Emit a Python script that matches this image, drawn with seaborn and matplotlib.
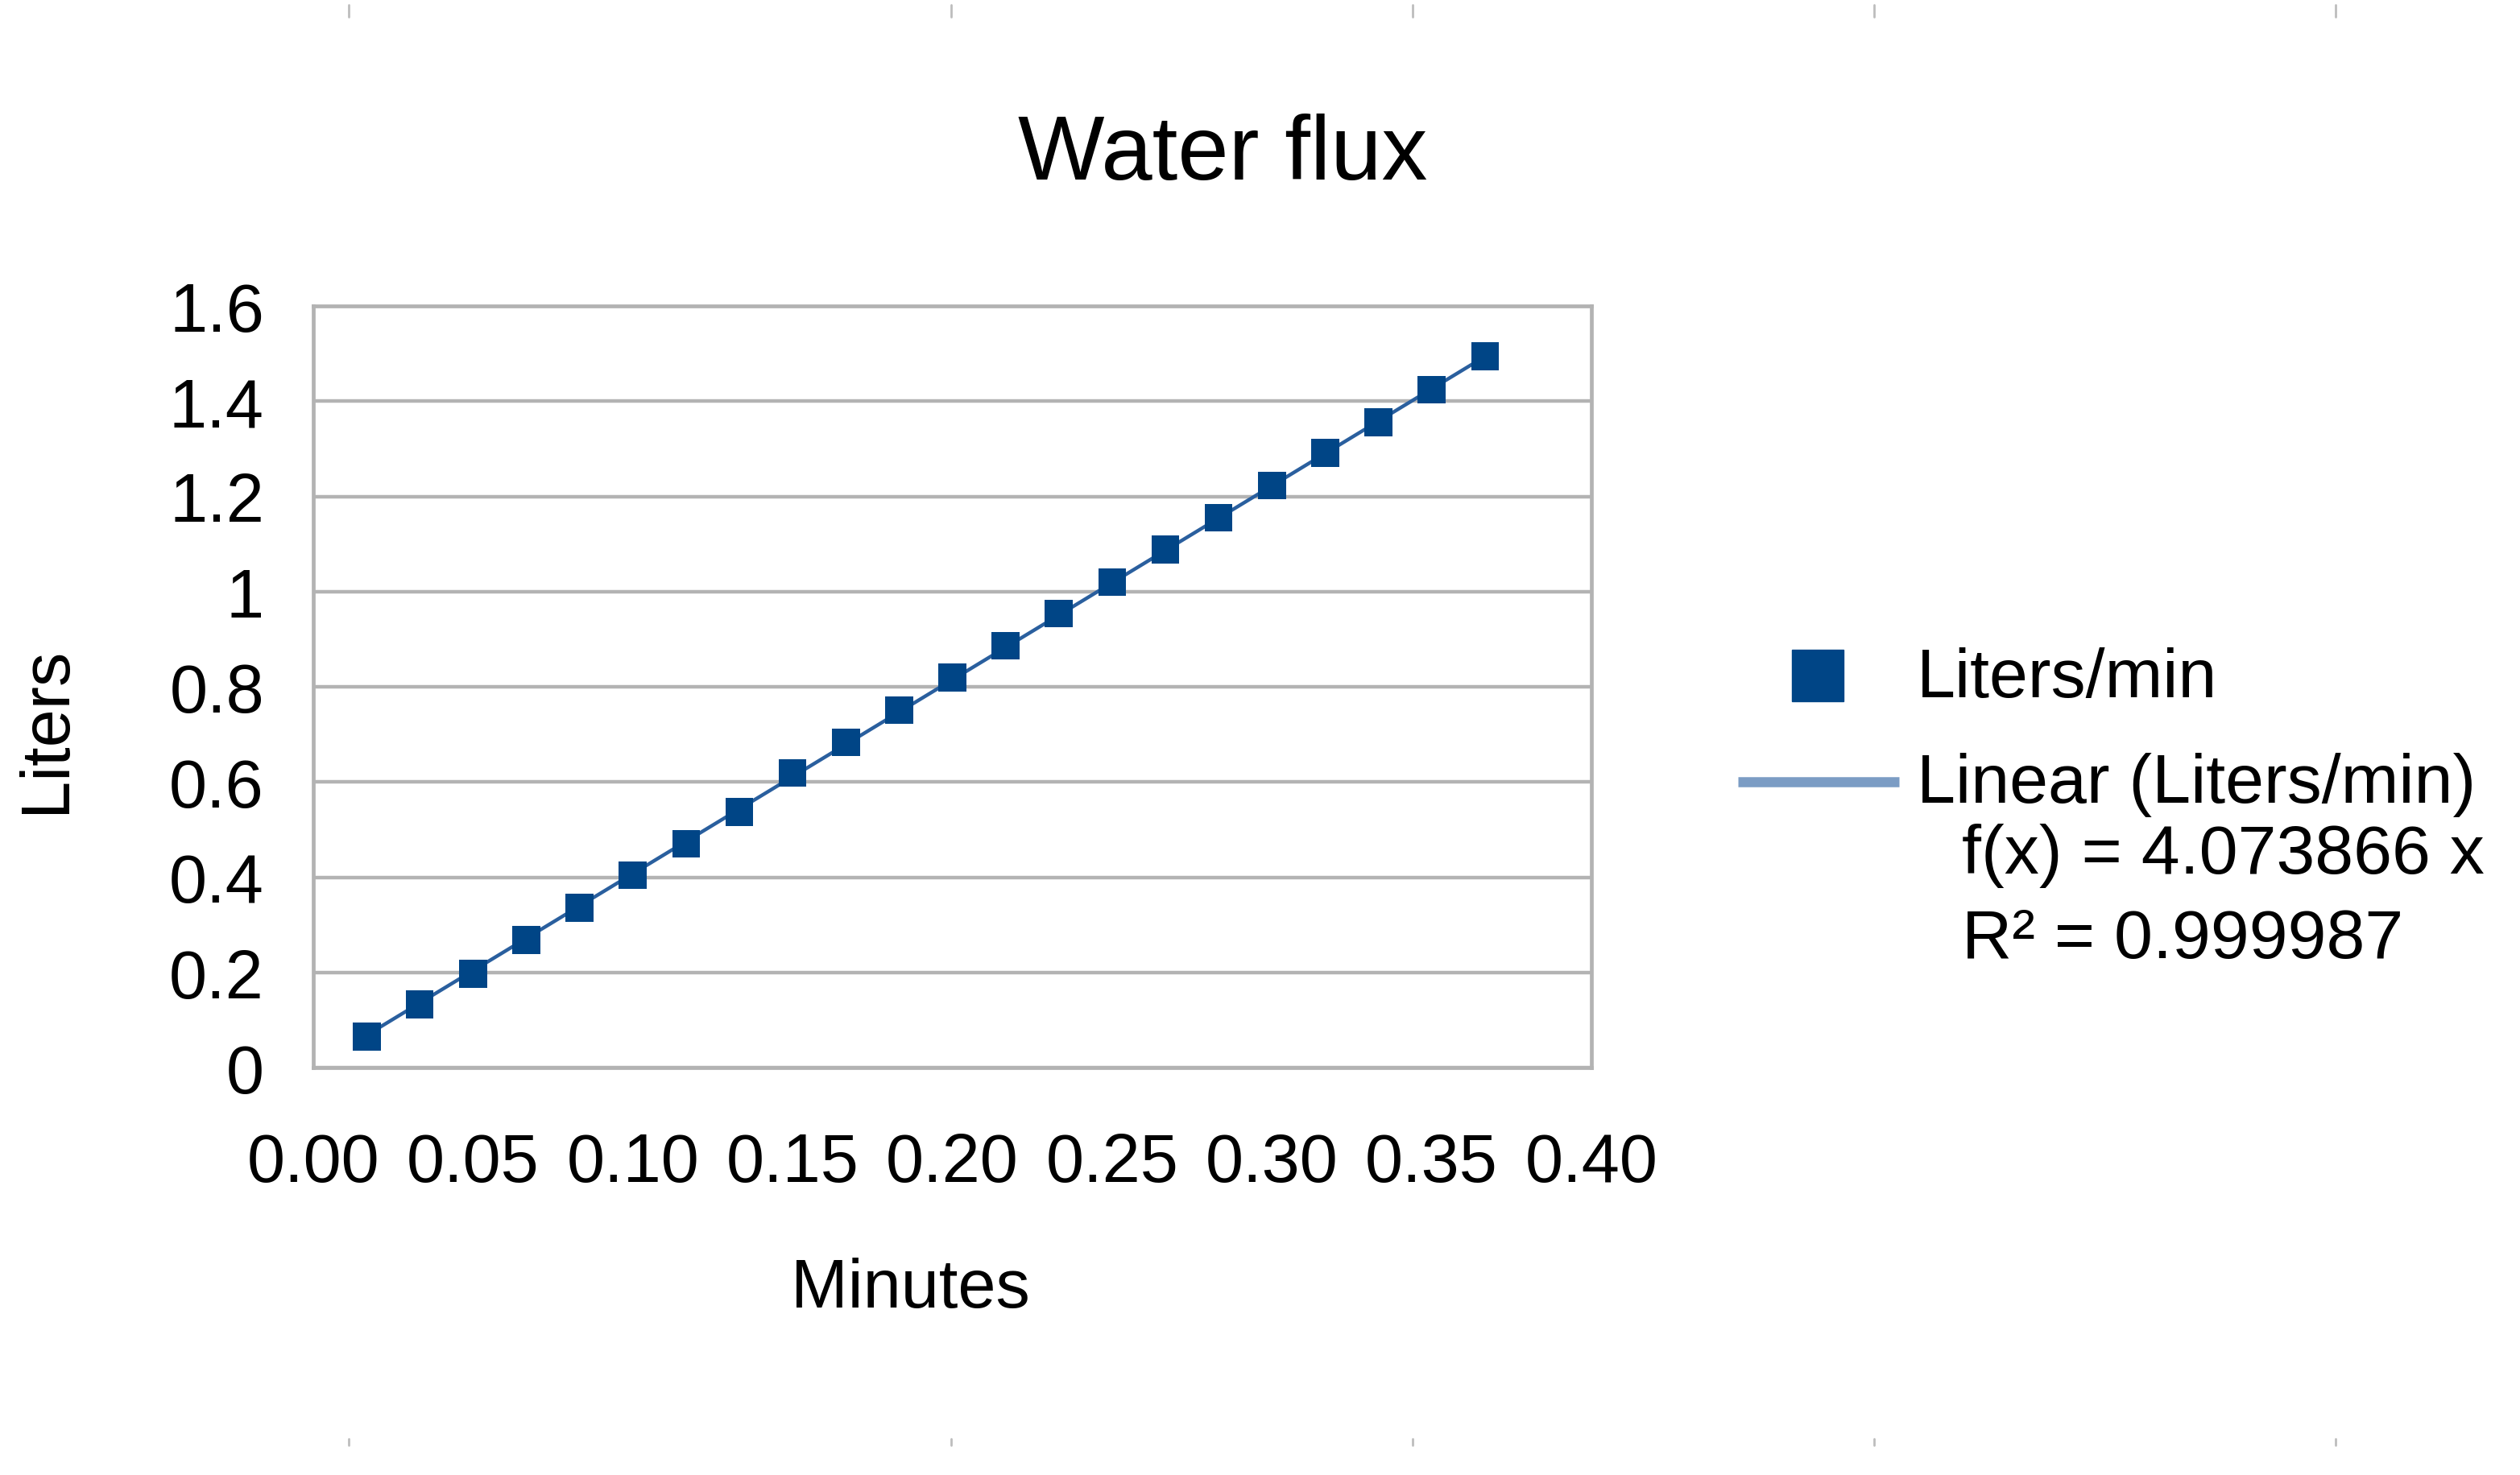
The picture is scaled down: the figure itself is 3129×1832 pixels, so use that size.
import matplotlib
matplotlib.use("Agg")
import matplotlib.pyplot as plt
from matplotlib.lines import Line2D
import seaborn as sns
import pandas as pd
import numpy as np

# ---------------- data ----------------
minutes = [0.0167, 0.0333, 0.0500, 0.0667, 0.0833, 0.1000, 0.1167, 0.1333,
           0.1500, 0.1667, 0.1833, 0.2000, 0.2167, 0.2333, 0.2500, 0.2667,
           0.2833, 0.3000, 0.3167, 0.3333, 0.3500, 0.3667]
liters = [0.065, 0.133, 0.197, 0.268, 0.336, 0.404, 0.470, 0.537,
          0.619, 0.683, 0.751, 0.819, 0.886, 0.954, 1.020, 1.088,
          1.155, 1.223, 1.291, 1.356, 1.424, 1.494]
trend_slope = 4.073866
trend_r2 = 0.999987
x_ticks = [0.00, 0.05, 0.10, 0.15, 0.20, 0.25, 0.30, 0.35, 0.40]
x_tick_labels = ["0.00", "0.05", "0.10", "0.15", "0.20", "0.25", "0.30", "0.35", "0.40"]
y_ticks = [0, 0.2, 0.4, 0.6, 0.8, 1.0, 1.2, 1.4, 1.6]
y_tick_labels = ["0", "0.2", "0.4", "0.6", "0.8", "1", "1.2", "1.4", "1.6"]
series_name = "Liters/min"
trend_name = "Linear (Liters/min)"
title = "Water flux"
x_label = "Minutes"
y_label = "Liters"

df = pd.DataFrame({"Minutes": minutes, "Liters": liters})
df["Trend"] = trend_slope * df["Minutes"]

# ---------------- style ----------------
sns.set_theme(style="white")
plt.rcParams["font.family"] = ["Liberation Sans", "DejaVu Sans"]

W, H, DPI = 3129, 1833, 100
fig = plt.figure(figsize=(W / DPI, H / DPI), dpi=DPI)
fig.patch.set_facecolor("white")

L, R, T, B = 389, 1976, 381, 1327
ax = fig.add_axes([L / W, 1 - B / H, (R - L) / W, (B - T) / H])

grid_c = "#b3b3b3"
blue = "#004586"

sns.lineplot(data=df, x="Minutes", y="Trend", ax=ax, color="#2a5f9e",
             linewidth=3.2, zorder=3)
sns.scatterplot(data=df, x="Minutes", y="Liters", ax=ax, marker="s",
                s=620, color=blue, edgecolor="none", linewidth=0, zorder=4)

ax.set_xlim(0, 0.40)
ax.set_ylim(0, 1.6)
ax.set_xticks(x_ticks)
ax.set_xticklabels(x_tick_labels)
ax.set_yticks(y_ticks)
ax.set_yticklabels(y_tick_labels)

ax.grid(False)
ax.yaxis.grid(True, color=grid_c, linewidth=3.2)
ax.set_axisbelow(True)
for s in ax.spines.values():
    s.set_color(grid_c)
    s.set_linewidth(3.4)
    s.set_visible(True)

ax.tick_params(axis="both", which="both", direction="out", colors=grid_c,
               labelcolor="black", labelsize=61, width=3.0)
ax.tick_params(axis="x", length=27, pad=30)
ax.tick_params(axis="y", length=28, pad=16)

ax.set_xlabel(x_label, fontsize=61, color="black")
ax.set_ylabel(y_label, fontsize=61, color="black")
ax.xaxis.set_label_coords((1130 - L) / (R - L), -(1602 - B) / (B - T),
                          transform=ax.transAxes)
ax.xaxis.label.set_va("center")
ax.yaxis.set_label_coords(-(L - 58) / (R - L), (B - 906) / (B - T),
                          transform=ax.transAxes)
ax.yaxis.label.set_va("center")

# title
fig.text(1518 / W, 1 - 182 / H, title, fontsize=82, ha="center",
         va="center_baseline", color="black")

# ---------------- legend ----------------
def fy(y):
    return 1 - y / H

def fx(x):
    return x / W

fig.add_artist(Line2D([fx(2257)], [fy(840)], marker="s", markersize=46,
                      color=blue, linestyle="none", transform=fig.transFigure))
fig.add_artist(Line2D([fx(2158), fx(2358)], [fy(972), fy(972)], color="#7b9cc4",
                      linewidth=9, solid_capstyle="butt",
                      transform=fig.transFigure))
leg_fs = 62
fig.text(fx(2380), fy(844), series_name, fontsize=leg_fs, ha="left",
         va="center", color="black")
fig.text(fx(2380), fy(975), trend_name, fontsize=leg_fs, ha="left",
         va="center", color="black")
fig.text(fx(2436), fy(1063), f"f(x) = {trend_slope:.6f} x", fontsize=leg_fs,
         ha="left", va="center", color="black")
fig.text(fx(2436), fy(1168), f"R\u00b2 = {trend_r2:.6f}", fontsize=leg_fs,
         ha="left", va="center", color="black")

# page cell markers (decorative)
for xm in [433, 1181, 1754, 2327, 2900]:
    fig.add_artist(Line2D([fx(xm), fx(xm)], [fy(7), fy(22)], color="#bdbdbd",
                          linewidth=2, transform=fig.transFigure))
    fig.add_artist(Line2D([fx(xm), fx(xm)], [fy(1788), fy(1796)], color="#bdbdbd",
                          linewidth=2, transform=fig.transFigure))

fig.savefig("out.png", dpi=DPI, facecolor="white")
